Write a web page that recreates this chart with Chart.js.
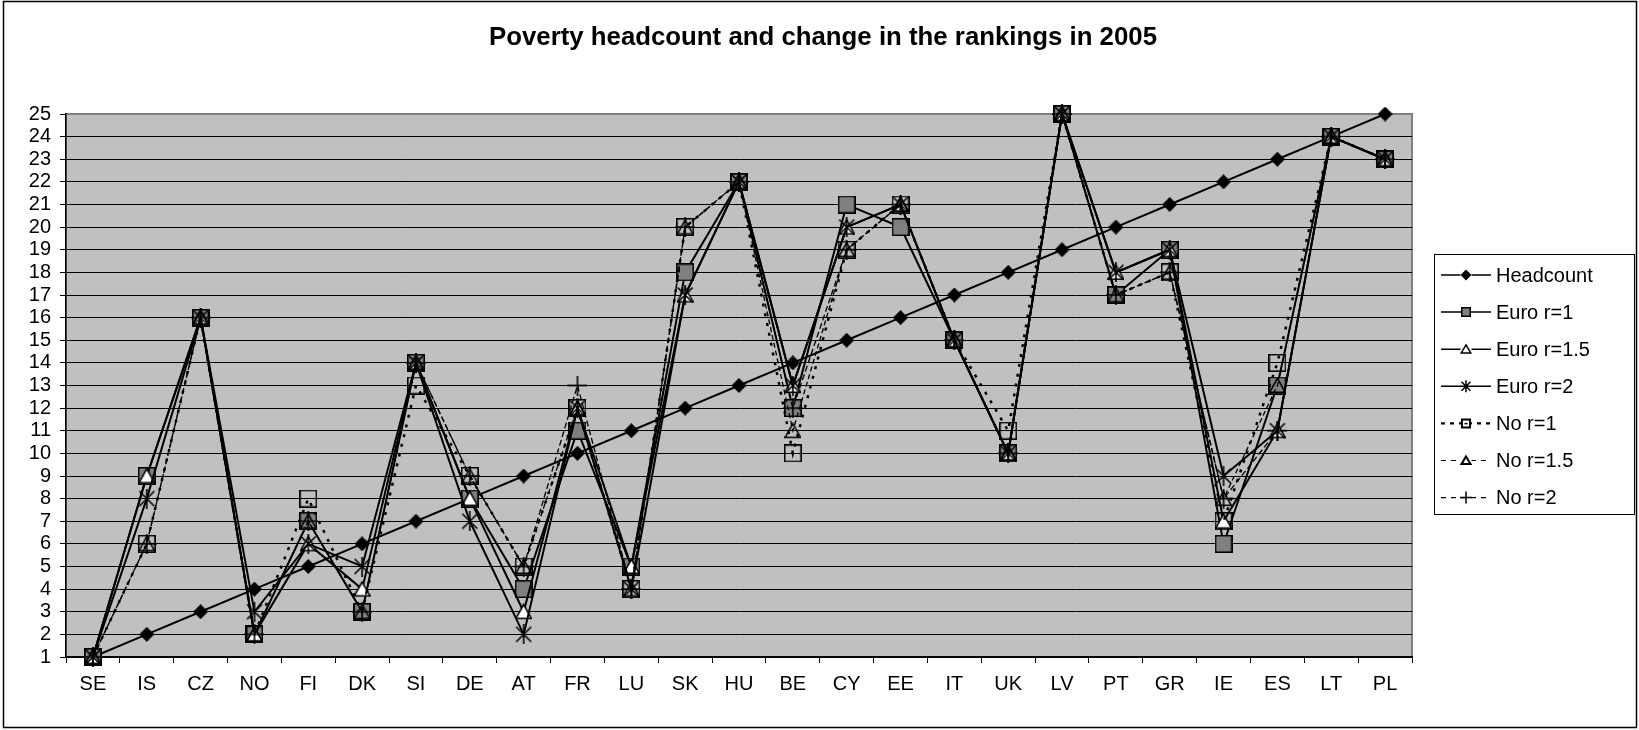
<!DOCTYPE html>
<html><head><meta charset="utf-8">
<script src="https://cdn.jsdelivr.net/npm/chart.js@4.4.0/dist/chart.umd.min.js"></script>
<style>html,body{margin:0;padding:0;background:#fff;}#wrap{width:1639px;height:730px;}</style>
</head><body><div id="wrap"><canvas id="c" width="1639" height="730"></canvas></div>
<script>
const categories = ['SE','IS','CZ','NO','FI','DK','SI','DE','AT','FR','LU','SK','HU','BE','CY','EE','IT','UK','LV','PT','GR','IE','ES','LT','PL'];
const yTicks = [1,2,3,4,5,6,7,8,9,10,11,12,13,14,15,16,17,18,19,20,21,22,23,24,25];
const headcount = [1,2,3,4,5,6,7,8,9,10,11,12,13,14,15,16,17,18,19,20,21,22,23,24,25];
const euroR1  = [1,9,16,2,7,3,14,8,4,11,5,18,22,12,21,20,15,10,25,17,19,6,13,24,23];
const euroR15 = [1,9,16,2,6,4,14,8,3,12,5,17,22,13,20,21,15,10,25,18,19,7,11,24,23];
const euroR2  = [1,8,16,3,6,5,14,7,2,12,4,17,22,13,20,21,15,10,25,18,19,9,11,24,23];
const noR1    = [1,6,16,2,8,3,13,9,5,12,4,20,22,10,19,21,15,11,25,17,18,7,14,24,23];
const noR15   = [1,6,16,2,7,3,14,9,5,12,4,20,22,11,19,21,15,10,25,17,18,8,13,24,23];
const noR2    = [1,6,16,2,7,3,14,9,5,13,4,20,22,12,19,21,15,10,25,17,18,8,11,24,23];
const titleText = 'Poverty headcount and change in the rankings in 2005';

function drawMarker(g, kind, cx, cy, s, lw) {
  g.save();
  g.strokeStyle = '#000'; g.lineWidth = lw || 1.5; g.setLineDash([]);
  const h = s / 2;
  const o = g.lineWidth / 2;
  g.beginPath();
  if (kind === 'diamond') {
    g.moveTo(cx, cy - h); g.lineTo(cx + h, cy); g.lineTo(cx, cy + h); g.lineTo(cx - h, cy); g.closePath();
    g.fillStyle = '#000'; g.fill();
  } else if (kind === 'graySquare' || kind === 'openSquare') {
    g.rect(cx - h + o, cy - h + o, s - 2 * o, s - 2 * o);
    if (kind === 'graySquare') { g.fillStyle = '#808080'; g.fill(); }
    g.stroke();
    if (kind === 'openSquare' && s < 12) { g.fillStyle = '#000'; g.fillRect(cx - 1.5, cy - 0.5, 3, 1.5); }
  } else if (kind === 'whiteTri' || kind === 'openTri') {
    g.moveTo(cx, cy - h + o + 0.5); g.lineTo(cx + h - o, cy + h - o - 1); g.lineTo(cx - h + o, cy + h - o - 1); g.closePath();
    if (kind === 'whiteTri') { g.fillStyle = '#fff'; g.fill(); }
    g.stroke();
  } else if (kind === 'asterisk') {
    const d = h * 0.75;
    g.moveTo(cx - d, cy - d); g.lineTo(cx + d, cy + d);
    g.moveTo(cx + d, cy - d); g.lineTo(cx - d, cy + d);
    g.moveTo(cx, cy - h); g.lineTo(cx, cy + h);
    g.stroke();
  } else if (kind === 'plus') {
    g.moveTo(cx, cy - h); g.lineTo(cx, cy + h);
    g.moveTo(cx - h, cy); g.lineTo(cx + h, cy);
    g.stroke();
  }
  g.restore();
}
function markerCanvas(kind, s) {
  const c = document.createElement('canvas');
  c.width = s; c.height = s;
  drawMarker(c.getContext('2d'), kind, s / 2, s / 2, s, 1.6);
  return c;
}

const seriesDefs = [
  {label: 'Headcount',  data: headcount, marker: 'diamond',    size: 15, lw: 2,   dash: [],     legendDash: [], legendLw: 1.5, legendSize: 11},
  {label: 'Euro r=1',   data: euroR1,    marker: 'graySquare', size: 18, lw: 2,   dash: [],     legendDash: [], legendLw: 1.5, legendSize: 10},
  {label: 'Euro r=1.5', data: euroR15,   marker: 'whiteTri',   size: 17, lw: 2,   dash: [],     legendDash: [], legendLw: 1.5, legendSize: 11},
  {label: 'Euro r=2',   data: euroR2,    marker: 'asterisk',   size: 20, lw: 2,   dash: [],     legendDash: [], legendLw: 1.5, legendSize: 12},
  {label: 'No r=1',     data: noR1,      marker: 'openSquare', size: 18, lw: 2.5, dash: [3, 7], legendDash: [4, 5], legendLw: 2.2, legendSize: 10},
  {label: 'No r=1.5',   data: noR15,     marker: 'openTri',    size: 17, lw: 1.3, dash: [5, 3], legendDash: [5, 5], legendLw: 1.2, legendSize: 11},
  {label: 'No r=2',     data: noR2,      marker: 'plus',       size: 20, lw: 1.3, dash: [6, 3], legendDash: [5, 5], legendLw: 1.2, legendSize: 12}
];

const datasets = seriesDefs.map((d, i) => ({
  label: d.label,
  data: d.data,
  borderColor: '#000',
  backgroundColor: '#000',
  borderWidth: d.lw,
  borderDash: d.dash,
  pointStyle: markerCanvas(d.marker, d.size),
  pointRadius: d.size / 2,
  pointHoverRadius: d.size / 2,
  tension: 0,
  fill: false,
  clip: false,
  order: seriesDefs.length - 1 - i
}));

const decorPlugin = {
  id: 'decor',
  beforeDraw(chart) {
    const {ctx, chartArea: a} = chart;
    ctx.save();
    ctx.fillStyle = '#fff';
    ctx.fillRect(0, 0, chart.width, chart.height);
    ctx.fillStyle = '#C0C0C0';
    ctx.fillRect(a.left, a.top, a.right - a.left, a.bottom - a.top);
    ctx.strokeStyle = '#808080';
    ctx.lineWidth = 2;
    ctx.strokeRect(a.left, a.top, a.right - a.left, a.bottom - a.top);
    ctx.strokeStyle = '#000';
    ctx.lineWidth = 1.5;
    ctx.strokeRect(3.5, 1.5, 1633, 726);
    ctx.fillStyle = '#000';
    ctx.font = 'bold 26px "Liberation Sans", Arial, sans-serif';
    ctx.textAlign = 'center';
    ctx.textBaseline = 'middle';
    ctx.fillText(titleText, 823, 38, 668);
    ctx.restore();
  },
  afterDraw(chart) {
    const ctx = chart.ctx;
    const bx = 1434, by = 254, bw = 200, bh = 260;
    ctx.save();
    ctx.fillStyle = '#fff';
    ctx.fillRect(bx, by, bw, bh);
    ctx.strokeStyle = '#000';
    ctx.lineWidth = 1;
    ctx.strokeRect(bx + 0.5, by + 0.5, bw, bh);
    ctx.font = '20px "Liberation Sans", Arial, sans-serif';
    ctx.textBaseline = 'middle';
    ctx.textAlign = 'left';
    seriesDefs.forEach((d, i) => {
      const y = 275 + i * 37.1;
      ctx.save();
      ctx.strokeStyle = '#000';
      ctx.lineWidth = d.legendLw;
      ctx.setLineDash(d.legendDash);
      ctx.beginPath();
      ctx.moveTo(1441, y); ctx.lineTo(1491, y);
      ctx.stroke();
      ctx.restore();
      if (d.marker !== 'asterisk' && d.marker !== 'plus') {
        ctx.fillStyle = '#fff';
        ctx.fillRect(1466 - d.legendSize / 2, y - d.legendSize / 2, d.legendSize, d.legendSize);
      }
      drawMarker(ctx, d.marker, 1466, y, d.legendSize, d.marker === 'openTri' || d.marker === 'openSquare' ? 2 : 1.5);
      ctx.fillStyle = '#000';
      ctx.fillText(d.label, 1496, y + 1);
    });
    ctx.restore();
  }
};

new Chart(document.getElementById('c'), {
  type: 'line',
  data: {labels: categories, datasets},
  options: {
    responsive: false,
    animation: false,
    devicePixelRatio: 1,
    layout: {padding: {left: 0, top: 114, right: 227, bottom: 0}},
    plugins: {legend: {display: false}, title: {display: false}, tooltip: {enabled: false}},
    scales: {
      x: {
        type: 'category',
        offset: true,
        afterFit(s) { s.height = 73; },
        grid: {offset: true, drawOnChartArea: false, drawTicks: true, tickLength: 6, tickColor: '#000', lineWidth: 1},
        border: {display: true, color: '#000', width: 1.5},
        ticks: {color: '#000', font: {family: '"Liberation Sans", Arial, sans-serif', size: 20}, padding: 9, maxRotation: 0, autoSkip: false}
      },
      y: {
        min: yTicks[0], max: yTicks[yTicks.length - 1],
        afterFit(s) { s.width = 66; },
        afterBuildTicks(s) { s.ticks = yTicks.map(v => ({value: v})); },
        grid: {
          color: ctx => (ctx.tick && ctx.tick.value === 25) ? '#808080' : '#000',
          lineWidth: 1, drawTicks: true, tickLength: 6, tickColor: '#000'
        },
        border: {display: true, color: '#000', width: 1.5},
        ticks: {color: '#000', font: {family: '"Liberation Sans", Arial, sans-serif', size: 20}, padding: 9, autoSkip: false}
      }
    }
  },
  plugins: [decorPlugin]
});
</script></body></html>
